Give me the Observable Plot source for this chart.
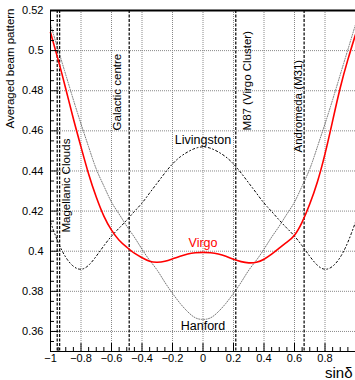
<!DOCTYPE html>
<html>
<head>
<meta charset="utf-8">
<script src="https://cdn.jsdelivr.net/npm/d3@7"></script>
<script src="https://cdn.jsdelivr.net/npm/@observablehq/plot@0.6"></script>
<style>
  html, body { margin: 0; padding: 0; background: #fff; }
</style>
</head>
<body>
<div id="chart"></div>
<script>
// ---- data ----
const sinDelta = [-1, -0.95, -0.9, -0.85, -0.8, -0.75, -0.7, -0.65, -0.6, -0.55, -0.5, -0.45, -0.4, -0.35, -0.3, -0.25, -0.2, -0.15, -0.1, -0.05, 0,
  0.05, 0.1, 0.15, 0.2, 0.25, 0.3, 0.35, 0.4, 0.45, 0.5, 0.55, 0.6, 0.65, 0.7, 0.75, 0.8, 0.85, 0.9, 0.95, 1];
const virgo = [0.509, 0.4955, 0.481, 0.466, 0.452, 0.4385, 0.427, 0.4175, 0.4105, 0.4055, 0.402, 0.399, 0.3968, 0.395, 0.3945, 0.395, 0.3962, 0.3975, 0.3986, 0.3992, 0.3994,
  0.3992, 0.3986, 0.3975, 0.396, 0.3948, 0.3942, 0.3945, 0.396, 0.3985, 0.4015, 0.4045, 0.408, 0.4145, 0.4235, 0.4345, 0.4485, 0.465, 0.4815, 0.4955, 0.508];
const hanford = [0.513, 0.5005, 0.488, 0.4755, 0.4635, 0.452, 0.441, 0.4325, 0.4245, 0.4185, 0.4125, 0.407, 0.401, 0.3955, 0.3905, 0.3845, 0.379, 0.374, 0.3698, 0.3668, 0.366,
  0.3668, 0.3698, 0.374, 0.379, 0.3845, 0.3905, 0.3955, 0.401, 0.407, 0.4125, 0.4185, 0.4245, 0.4325, 0.441, 0.452, 0.4635, 0.4755, 0.488, 0.5005, 0.513];
const livingston = [0.4145, 0.4045, 0.397, 0.3925, 0.391, 0.393, 0.3975, 0.4027, 0.4075, 0.4115, 0.4155, 0.4198, 0.424, 0.429, 0.434, 0.439, 0.4435, 0.447, 0.4495, 0.4513, 0.452,
  0.4513, 0.4495, 0.447, 0.4435, 0.439, 0.434, 0.429, 0.424, 0.4198, 0.4155, 0.4115, 0.4075, 0.4027, 0.3975, 0.393, 0.391, 0.3925, 0.397, 0.4045, 0.4145];

const sourceNames = ["SMC", "LMC", "Galactic centre", "M87 (Virgo Cluster)", "Andromeda (M31)"];
const sourceSin = [-0.956, -0.94, -0.484, 0.215, 0.663];
const labelNames = ["Magellanic Clouds", "Galactic centre", "M87 (Virgo Cluster)", "Andromeda (M31)"];
const labelSin = [-0.898, -0.561, 0.289, 0.623];
const labelStart = [0.4093, 0.4602, 0.4602, 0.4492];

const curveNames = ["Livingston", "Virgo", "Hanford"];
const curveLabelX = [0, 0, 0];
const curveLabelY = [0.4552, 0.4039, 0.3625];
const curveColors = ["#000", "#ff0000", "#000"];

const xTicks = [-1, -0.8, -0.6, -0.4, -0.2, 0, 0.2, 0.4, 0.6, 0.8];
const xMinor = [-0.95, -0.9, -0.85, -0.75, -0.7, -0.65, -0.55, -0.5, -0.45, -0.35, -0.3, -0.25, -0.15, -0.1, -0.05,
  0.05, 0.1, 0.15, 0.25, 0.3, 0.35, 0.45, 0.5, 0.55, 0.65, 0.7, 0.75, 0.85, 0.9, 0.95];
const yTicks = [0.36, 0.38, 0.40, 0.42, 0.44, 0.46, 0.48, 0.50, 0.52];
const yMinor = [0.355, 0.365, 0.37, 0.375, 0.385, 0.39, 0.395, 0.405, 0.41, 0.415, 0.425, 0.43, 0.435,
  0.445, 0.45, 0.455, 0.465, 0.47, 0.475, 0.485, 0.49, 0.495, 0.505, 0.51, 0.515];
const xDomain = [-1, 1];
const yDomain = [0.35, 0.52];

// ---- build ----
const rows = sinDelta.map((s, i) => ({s, virgo: virgo[i], hanford: hanford[i], livingston: livingston[i]}));
const sources = sourceNames.map((n, i) => ({n, s: sourceSin[i]}));
const labels = labelNames.map((n, i) => ({n, s: labelSin[i], y: labelStart[i]}));
const curveLabels = curveNames.map((n, i) => ({n, x: curveLabelX[i], y: curveLabelY[i], c: curveColors[i]}));

const W = 355, H = 380, mT = 10, mB = 29, mL = 50, mR = 0;
const innerH = H - mT - mB, innerW = W - mL - mR;
const fmtX = d => (d < 0 ? "\u2212" : "") + String(+Math.abs(d).toFixed(1));
const fmtY = d => String(+d.toFixed(2));
const font = "'Liberation Sans', Arial, Helvetica, sans-serif";

const chart = Plot.plot({
  width: W, height: H,
  marginTop: mT, marginBottom: mB, marginLeft: mL, marginRight: mR,
  style: {fontFamily: font, fontSize: "11px", background: "#fff", color: "#000", overflow: "visible"},
  x: {domain: xDomain, axis: null},
  y: {domain: yDomain, axis: null},
  marks: [
    Plot.gridX(xTicks.filter(d => d > -1), {stroke: "#888", strokeOpacity: 1, strokeDasharray: "1,1", strokeWidth: 1}),
    Plot.gridY(yTicks.filter(d => d < 0.52), {stroke: "#888", strokeOpacity: 1, strokeDasharray: "1,1", strokeWidth: 1}),
    Plot.ruleX(sources, {x: "s", stroke: "#000", strokeDasharray: "3,1.5", strokeWidth: 1.2}),
    Plot.text(labels, {x: "s", y: "y", text: "n", rotate: -90, textAnchor: "start", lineAnchor: "middle", fontSize: 11.5}),
    Plot.line(rows, {x: "s", y: "livingston", stroke: "#000", strokeWidth: 1, strokeDasharray: "2,2.5,1,2.5", curve: "natural"}),
    Plot.line(rows, {x: "s", y: "hanford", stroke: "#555", strokeWidth: 0.8, strokeDasharray: "1,1.5", curve: "natural"}),
    Plot.line(rows, {x: "s", y: "virgo", stroke: "#ff0000", strokeWidth: 1.6, curve: "natural"}),
    Plot.text(curveLabels, {x: "x", y: "y", text: "n", fill: "c", fontSize: 12.5, lineAnchor: "middle"}),
    // frame
    Plot.ruleY([yDomain[1]], {stroke: "#000", strokeWidth: 2}),
    Plot.ruleY([yDomain[0]], {stroke: "#000", strokeWidth: 1}),
    Plot.ruleX([xDomain[0]], {stroke: "#000", strokeWidth: 1}),
    // ticks inside
    Plot.tickX(xTicks, {x: d => d, stroke: "#000", insetTop: innerH - 8}),
    Plot.tickX(xMinor, {x: d => d, stroke: "#000", insetTop: innerH - 4}),
    Plot.tickY(yTicks, {y: d => d, stroke: "#000", insetRight: innerW - 8}),
    Plot.tickY(yMinor, {y: d => d, stroke: "#000", insetRight: innerW - 4}),
    // tick labels
    Plot.axisX(xTicks, {tickSize: 0, tickPadding: 3, tickFormat: fmtX, fontSize: 11, label: null}),
    Plot.axisY(yTicks, {tickSize: 0, tickPadding: 7, tickFormat: fmtY, fontSize: 11, label: null}),
    // axis titles
    Plot.text(["Averaged beam pattern"], {frameAnchor: "top-left", text: d => d, rotate: -90, textAnchor: "end", lineAnchor: "middle", dx: -40, dy: -2, fontSize: 11.5}),
    Plot.text(["sin\u03b4"], {frameAnchor: "bottom-right", text: d => d, textAnchor: "end", lineAnchor: "middle", dx: -3, dy: 22, fontSize: 15})
  ]
});
document.getElementById("chart").appendChild(chart);
</script>
</body>
</html>
